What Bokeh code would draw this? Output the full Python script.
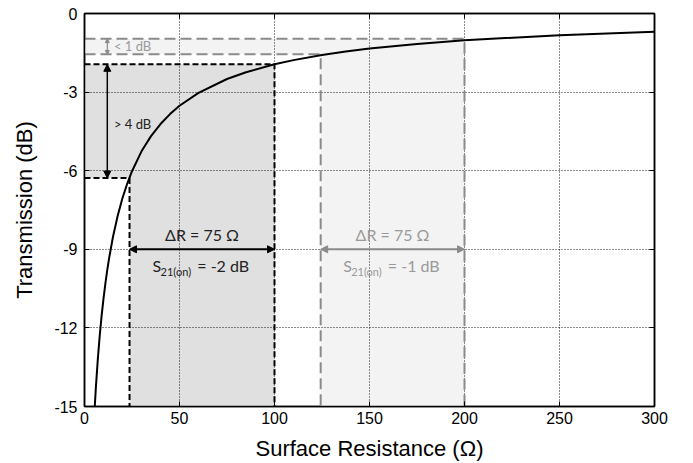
from bokeh.plotting import figure
from bokeh.models import Arrow, NormalHead, LinearAxis, FixedTicker, Range1d
from bokeh.core.properties import value
from bokeh.embed import file_html
from bokeh.resources import INLINE

# ---- data ----
resistance = [5.4, 6, 7, 8, 9, 10, 11, 12, 13, 15, 17.5, 20, 22.5, 25, 30, 35, 40, 45, 50,
              60, 75, 85, 100, 110, 125, 137.5, 150, 175, 200, 250, 300]
transmission = [-15.0, -14.26, -13.20, -12.31, -11.54, -10.88, -10.30, -9.78, -9.32, -8.52,
                -7.71, -7.04, -6.49, -6.02, -5.26, -4.68, -4.22, -3.84, -3.52, -3.03, -2.50,
                -2.24, -1.94, -1.78, -1.58, -1.45, -1.34, -1.16, -1.02, -0.83, -0.70]

x_ticks = [0, 50, 100, 150, 200, 250, 300]
y_ticks = [-15, -12, -9, -6, -3, 0]
x_tick_labels = ["0", "50", "100", "150", "200", "250", "300"]
y_tick_labels = ["-15", "-12", "-9", "-6", "-3", "0"]

# "on" window with -2 dB target (dark) and -1 dB target (light)
dark_r = [23.7, 100]
dark_db = [-6.28, -1.94]
light_r = [124.3, 200]
light_db = [-1.56, -0.96]
delta_r = 75
xmin, xmax, ymin, ymax = 0, 300, -15, 0

FONT_AX = "Liberation Sans"
FONT_AN = "Lato"
GRAY_LINE = "#8a8a8a"
GRAY_TXT = "#9a9a9a"

p = figure(width=693, height=463, output_backend="svg", toolbar_location=None,
           x_range=Range1d(xmin, xmax), y_range=Range1d(ymin, ymax),
           min_border_left=84, min_border_right=39, min_border_top=13, min_border_bottom=56)
p.background_fill_color = "white"
p.border_fill_color = "white"
p.outline_line_color = "black"
p.outline_line_width = 1.5

# shaded regions (drawn below grid)
p.patch([xmin, dark_r[1], dark_r[1], dark_r[0], dark_r[0], xmin],
        [dark_db[1], dark_db[1], ymin, ymin, dark_db[0], dark_db[0]],
        fill_color="#e0e0e0", line_color=None, level="image")
p.patch([xmin, light_r[1], light_r[1], light_r[0], light_r[0], xmin],
        [light_db[1], light_db[1], ymin, ymin, light_db[0], light_db[0]],
        fill_color="#f3f3f3", line_color=None, level="image")

# grid
for g in (p.xgrid, p.ygrid):
    g.grid_line_color = "black"
    g.grid_line_dash = "1 2"
    g.grid_line_width = 1
    g.grid_line_alpha = 0.9
p.xgrid.ticker = FixedTicker(ticks=x_ticks)
p.ygrid.ticker = FixedTicker(ticks=y_ticks)

# axes
p.xaxis.ticker = FixedTicker(ticks=x_ticks)
p.yaxis.ticker = FixedTicker(ticks=y_ticks)
p.xaxis.major_label_overrides = dict(zip(x_ticks, x_tick_labels))
p.yaxis.major_label_overrides = dict(zip(y_ticks, y_tick_labels))
p.xaxis.axis_label = "Surface Resistance (Ω)"
p.yaxis.axis_label = "Transmission (dB)"
for ax in (p.xaxis[0], p.yaxis[0]):
    ax.axis_label_text_font = FONT_AX
    ax.axis_label_text_font_style = "normal"
    ax.axis_label_text_font_size = "22px"
    ax.axis_label_text_color = "black"
    ax.major_label_text_font = FONT_AX
    ax.major_label_text_font_size = "16px"
    ax.major_label_text_color = "black"
    ax.major_tick_in = 5
    ax.major_tick_out = 0
    ax.minor_tick_line_color = None
    ax.axis_line_color = "black"
    ax.axis_line_width = 1.5
    ax.major_tick_line_color = "black"
p.xaxis.major_label_standoff = 5
p.xaxis.axis_label_standoff = 9
p.yaxis.major_label_standoff = 7
p.yaxis.axis_label_standoff = 14

for loc, tk in (("above", x_ticks), ("right", y_ticks)):
    ax = LinearAxis(ticker=FixedTicker(ticks=tk), major_label_text_color=None,
                    major_label_text_font_size="8px",
                    major_label_standoff=0, major_tick_in=5, major_tick_out=0,
                    minor_tick_line_color=None, axis_line_color="black", axis_line_width=1.5)
    p.add_layout(ax, loc)

# dashed guide lines
dark_kw = dict(line_color="black", line_width=2, line_dash="6 3")
p.line([xmin, dark_r[1], dark_r[1]], [dark_db[1], dark_db[1], ymin], **dark_kw)
p.line([xmin, dark_r[0], dark_r[0]], [dark_db[0], dark_db[0], ymin], **dark_kw)
light_kw = dict(line_color=GRAY_LINE, line_width=2, line_dash="11 5")
p.line([xmin, light_r[1], light_r[1]], [light_db[1], light_db[1], ymin], **light_kw)
p.line([xmin, light_r[0], light_r[0]], [light_db[0], light_db[0], ymin], **light_kw)

# curve
p.line(resistance, transmission, line_color="black", line_width=2)

# arrows
def head(c, s):
    return NormalHead(size=s, fill_color=c, line_color=c)

arr_x = 12
p.add_layout(Arrow(x_start=arr_x, y_start=dark_db[0], x_end=arr_x, y_end=dark_db[1],
                   start=head("black", 7), end=head("black", 7), line_color="black", line_width=1.5))
p.add_layout(Arrow(x_start=arr_x, y_start=light_db[0], x_end=arr_x, y_end=light_db[1],
                   start=head(GRAY_LINE, 4), end=head(GRAY_LINE, 4), line_color=GRAY_LINE, line_width=1.2))
p.add_layout(Arrow(x_start=dark_r[0], y_start=-9, x_end=dark_r[1], y_end=-9,
                   start=head("black", 7), end=head("black", 7), line_color="black", line_width=2))
p.add_layout(Arrow(x_start=light_r[0], y_start=-9, x_end=light_r[1], y_end=-9,
                   start=head(GRAY_LINE, 7), end=head(GRAY_LINE, 7), line_color=GRAY_LINE, line_width=2))

# annotation texts
def txt(x, y, s, color, size, align="left", baseline="middle"):
    p.text(x=[x], y=[y], text=[s], text_font=value(FONT_AN), text_font_size=size,
           text_color=color, text_align=align, text_baseline=baseline)

txt(15.5, -4.2, "> 4 dB", "#222222", "13px")
txt(15.5, -1.24, "< 1 dB", GRAY_TXT, "13px")

for (r0, r1), db, col in ((dark_r, "-2", "#222222"), (light_r, "-1", GRAY_TXT)):
    cx = (r0 + r1) / 2
    txt(cx, -8.42, "ΔR = %d Ω" % delta_r, col, "16px", align="center")
    txt(cx - 26, -9.62, "S", col, "16px")
    txt(cx - 21.8, -9.86, "21(on)", col, "11px")
    txt(cx - 2.5, -9.62, "= %s dB" % db, col, "16px")

open("out.html", "w").write(file_html(p, INLINE))
